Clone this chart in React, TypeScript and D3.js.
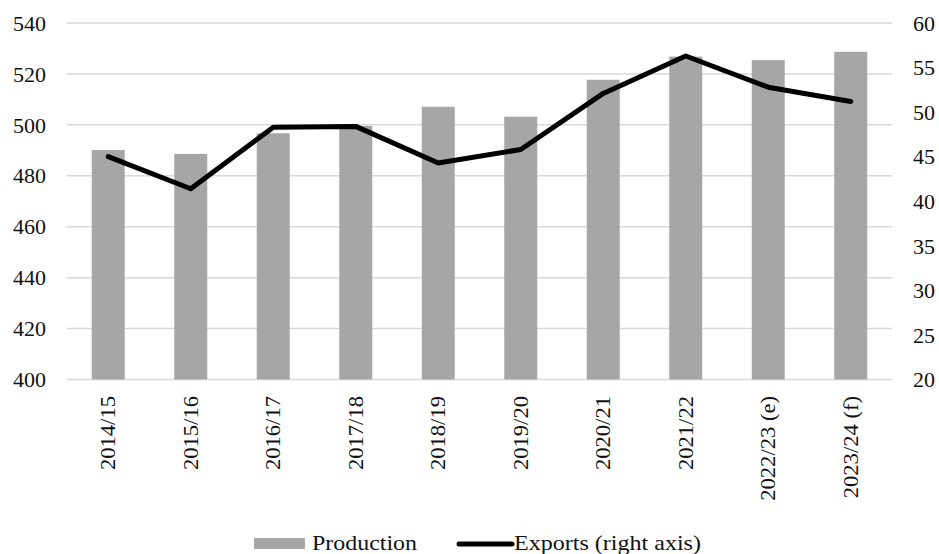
import React from "react";
import * as d3 from "d3";

const categories = ["2014/15", "2015/16", "2016/17", "2017/18", "2018/19", "2019/20", "2020/21", "2021/22", "2022/23 (e)", "2023/24 (f)"];
const production = [490.1, 488.6, 496.7, 499.6, 507.1, 503.2, 517.7, 526.8, 525.4, 528.7];
const exportsVals = [45.0, 41.4, 48.3, 48.4, 44.3, 45.8, 52.1, 56.3, 52.8, 51.2];
const leftTicks = [400, 420, 440, 460, 480, 500, 520, 540];
const rightTicks = [20, 25, 30, 35, 40, 45, 50, 55, 60];

const W = 939, H = 554;
const left = 67, right = 892, top = 23, bottom = 379.5;
const FONT = "'Liberation Serif', 'Times New Roman', serif";

export default function App() {
  const x = d3.scaleBand<string>().domain(categories).range([left, right]).paddingInner(0.6).paddingOuter(0.3);
  const yL = d3.scaleLinear().domain([400, 540]).range([bottom, top]);
  const yR = d3.scaleLinear().domain([20, 60]).range([bottom, top]);
  const line = d3.line<number>()
    .x((_, i) => (x(categories[i]) as number) + x.bandwidth() / 2)
    .y((d) => yR(d));

  return (
    <svg width={W} height={H} style={{ position: "absolute", left: 0, top: 0, background: "#fff" }} fontFamily={FONT}>
      {leftTicks.map((t) => (
        <line key={"g" + t} x1={left} x2={right} y1={yL(t)} y2={yL(t)} stroke="#d9d9d9" strokeWidth={1.5} />
      ))}
      {categories.map((c, i) => (
        <rect key={c} x={x(c)} y={yL(production[i])} width={x.bandwidth()} height={bottom - yL(production[i])} fill="#a6a6a6" />
      ))}
      <path d={line(exportsVals) || ""} fill="none" stroke="#000" strokeWidth={5} strokeLinejoin="round" strokeLinecap="round" />
      {leftTicks.map((t) => (
        <text key={"l" + t} x={46} y={yL(t)} dy="0.35em" textAnchor="end" fontSize={22} fill="#111">{t}</text>
      ))}
      {rightTicks.map((t) => (
        <text key={"r" + t} x={913} y={yR(t)} dy="0.35em" textAnchor="start" fontSize={22} fill="#111">{t}</text>
      ))}
      {categories.map((c) => {
        const cx = (x(c) as number) + x.bandwidth() / 2;
        return (
          <text key={"x" + c} transform={`translate(${cx},396) rotate(-90) scale(1.13,1)`} dy="0.35em" textAnchor="end" fontSize={20} fill="#111">{c}</text>
        );
      })}
      <rect x={254} y={538} width={51} height={11} fill="#a6a6a6" />
      <text x={312} y={550} fontSize={22} fill="#111" textLength={105} lengthAdjust="spacingAndGlyphs">Production</text>
      <line x1={459} x2={512} y1={544} y2={544} stroke="#000" strokeWidth={5} strokeLinecap="round" />
      <text x={514} y={550} fontSize={22} fill="#111" textLength={187} lengthAdjust="spacingAndGlyphs">Exports (right axis)</text>
    </svg>
  );
}
